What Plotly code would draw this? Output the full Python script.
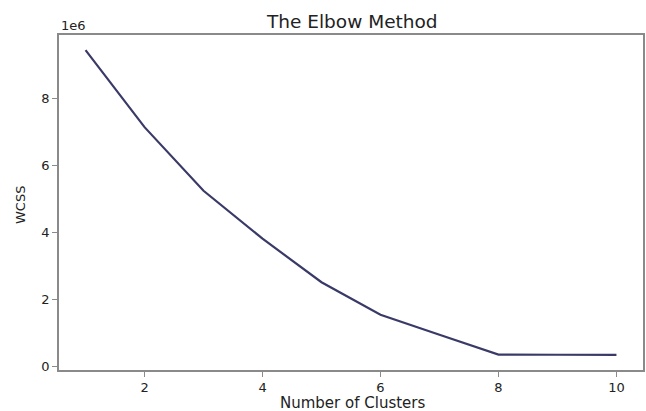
import plotly.graph_objects as go

clusters = [1, 2, 3, 4, 5, 6, 7, 8, 9, 10]
wcss = [9.45e6, 7.15e6, 5.25e6, 3.82e6, 2.52e6, 1.55e6, 0.95e6, 0.36e6, 0.355e6, 0.35e6]
x_ticks = [2, 4, 6, 8, 10]
y_ticks = [0, 2e6, 4e6, 6e6, 8e6]
y_tick_labels = ["0", "2", "4", "6", "8"]

fig = go.Figure()
fig.add_trace(go.Scatter(x=clusters, y=wcss, mode="lines",
                         line=dict(color="#3a3a68", width=2.2)))

font = dict(family="DejaVu Sans", color="#222222")
fig.update_layout(
    width=646, height=411,
    margin=dict(l=59, r=3, t=35, b=41),
    paper_bgcolor="white", plot_bgcolor="white",
    showlegend=False,
    xaxis=dict(range=[0.55, 10.45], tickvals=x_ticks, showgrid=False, zeroline=False,
               automargin=False,
               showline=True, linecolor="#8a8a8a", linewidth=1.6, mirror=True,
               ticks="outside", ticklen=5, tickcolor="#8a8a8a",
               tickfont=dict(size=13, **font)),
    yaxis=dict(range=[-0.1e6, 9.9e6], tickvals=y_ticks, ticktext=y_tick_labels,
               showgrid=False, zeroline=False, automargin=False,
               showline=True, linecolor="#8a8a8a", linewidth=1.6, mirror=True,
               ticks="outside", ticklen=5, tickcolor="#8a8a8a",
               tickfont=dict(size=13, **font)),
)
fig.add_annotation(text="The Elbow Method", xref="paper", yref="paper",
                   x=(352 - 59) / 584, y=1 + (35 - 22) / 335,
                   xanchor="center", yanchor="middle", showarrow=False,
                   font=dict(size=18.5, **font))
fig.add_annotation(text="Number of Clusters", xref="paper", yref="paper",
                   x=(352 - 59) / 584, y=-(403 - 370) / 335,
                   xanchor="center", yanchor="middle", showarrow=False,
                   font=dict(size=15, **font))
fig.add_annotation(text="WCSS", xref="paper", yref="paper",
                   x=-(59 - 20) / 584, y=(370 - 205) / 335, textangle=-90,
                   xanchor="center", yanchor="middle", showarrow=False,
                   font=dict(size=13, **font))
fig.add_annotation(text="1e6", xref="paper", yref="paper", x=0.0, y=1.0,
                   xanchor="left", yanchor="bottom", showarrow=False,
                   font=dict(size=13, **font))
fig.write_html("out.html", config={"displayModeBar": False},
               post_script="document.body.style.margin='0';document.body.style.overflow='hidden';")
